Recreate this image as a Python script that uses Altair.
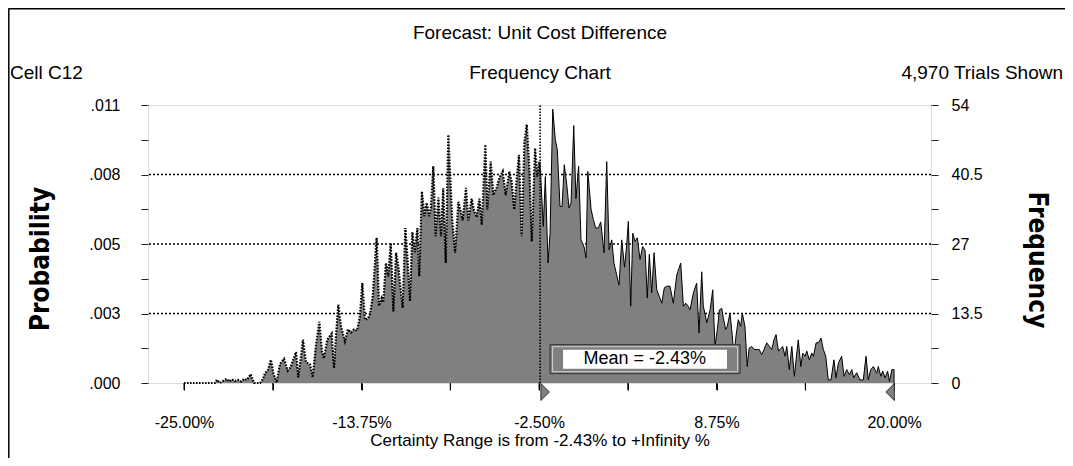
import altair as alt
import pandas as pd

# ---------------- data ----------------
x_pct = [
    -25.00, -23.04, -22.91, -22.72, -22.53, -22.29, -22.15, -21.96, -21.77, -21.58,
    -21.39, -21.20, -21.01, -20.77, -20.56, -20.18, -19.99, -19.87, -19.68, -19.49,
    -19.33, -19.12, -18.92, -18.66, -18.43, -18.25, -18.09, -17.90, -17.76, -17.58,
    -17.46, -17.27, -17.01, -16.84, -16.63, -16.42, -16.25, -16.13, -15.92, -15.78,
    -15.64, -15.49, -15.37, -15.22, -15.05, -14.80, -14.61, -14.42, -14.23, -14.02,
    -13.85, -13.70, -13.53, -13.34, -13.21, -13.04, -12.79, -12.64, -12.47, -12.37,
    -12.20, -12.05, -11.90, -11.73, -11.56, -11.42, -11.14, -10.97, -10.82, -10.68,
    -10.53, -10.36, -10.21, -10.09, -9.92, -9.77, -9.62, -9.47, -9.35, -9.20,
    -9.05, -8.88, -8.71, -8.57, -8.41, -8.25, -8.00, -7.82, -7.61, -7.44,
    -7.34, -7.13, -6.98, -6.77, -6.62, -6.45, -6.28, -6.13, -5.90, -5.78,
    -5.56, -5.40, -5.18, -5.02, -4.80, -4.61, -4.38, -4.23, -4.07, -3.92,
    -3.77, -3.60, -3.43, -3.28, -3.12, -2.96, -2.75, -2.61, -2.48, -2.39,
    -2.23, -2.10, -1.93, -1.80, -1.63, -1.47, -1.34, -1.17, -1.04, -0.90,
    -0.74, -0.60, -0.47, -0.30, -0.16, 0.01, 0.16, 0.35, 0.48, 0.59,
    0.80, 0.94, 1.09, 1.26, 1.41, 1.62, 1.79, 1.94, 2.11, 2.25,
    2.42, 2.57, 2.74, 2.92, 3.06, 3.16, 3.31, 3.44, 3.58, 3.73,
    3.90, 4.07, 4.22, 4.36, 4.49, 4.64, 4.79, 4.96, 5.12, 5.28,
    5.44, 5.59, 5.80, 6.01, 6.23, 6.48, 6.65, 6.80, 6.96, 7.07,
    7.28, 7.49, 7.64, 7.81, 7.91, 8.13, 8.34, 8.51, 8.65, 8.80,
    8.93, 9.08, 9.18, 9.33, 9.43, 9.60, 9.71, 9.86, 9.98, 10.13,
    10.28, 10.38, 10.55, 10.69, 10.82, 10.98, 11.13, 11.30, 11.46, 11.61,
    11.76, 11.93, 12.10, 12.25, 12.39, 12.52, 12.67, 12.77, 12.94, 13.09,
    13.20, 13.36, 13.52, 13.68, 13.79, 13.93, 14.09, 14.21, 14.36, 14.47,
    14.63, 14.78, 14.89, 15.06, 15.20, 15.37, 15.52, 15.67, 15.83, 16.00,
    16.19, 16.32, 16.47, 16.68, 16.83, 17.00, 17.17, 17.32, 17.44, 17.63,
    17.84, 18.05, 18.22, 18.37, 18.52, 18.69, 18.90, 19.00, 19.16, 19.28,
    19.43, 19.59, 19.71, 19.86, 20.00, 20.00,
]
freq = [
    0, 0, 0.6, 0, 0.4, 0.8, 0.3, 0.7, 0.4, 0.6,
    0.3, 0.8, 0.6, 1.7, 0, 0, 0.8, 1.9, 2.5, 4.5,
    1.8, 0.1, 3.7, 4.7, 2.4, 3.0, 4.4, 6.0, 1.1, 5.2,
    8.4, 4.0, 3.6, 1.1, 7.5, 11.9, 6.0, 4.8, 8.4, 9.0,
    9.6, 2.9, 9.0, 15.2, 11.0, 8.1, 10.4, 9.8, 10.4, 10.2,
    13.0, 19.4, 12.3, 12.5, 13.4, 16.8, 28.2, 15.0, 16.5, 15.7,
    23.3, 20.7, 27.2, 13.9, 25.3, 22.7, 14.6, 30.1, 23.6, 15.9,
    29.3, 25.4, 30.1, 20.7, 37.2, 32.4, 35.0, 32.4, 34.0, 42.1,
    28.5, 36.0, 28.5, 37.8, 23.3, 48.2, 31.6, 25.3, 35.2, 33.0,
    31.6, 37.9, 31.6, 35.8, 33.5, 32.2, 35.8, 30.7, 46.3, 33.7,
    43.0, 36.5, 38.0, 39.8, 41.1, 36.5, 41.1, 39.0, 33.7, 39.5,
    44.3, 28.5, 46.6, 50.2, 42.0, 27.5, 45.6, 40.1, 43.0, 40.1,
    30.4, 40.1, 23.3, 29.1, 53.2, 47.3, 45.3, 34.3, 34.3, 42.4,
    38.5, 34.0, 35.0, 50.0, 35.8, 42.1, 27.8, 26.5, 24.3, 41.1,
    33.7, 31.8, 30.1, 30.1, 31.3, 25.3, 43.0, 25.9, 27.8, 23.3,
    21.0, 19.0, 27.8, 22.5, 27.0, 31.4, 14.9, 29.1, 27.5, 28.2,
    24.0, 26.5, 25.8, 16.5, 25.0, 17.5, 25.3, 18.1, 16.8, 15.5,
    18.5, 18.8, 18.8, 15.5, 21.0, 23.3, 14.9, 15.5, 14.9, 14.2,
    17.5, 19.4, 9.7, 21.6, 15.0, 11.7, 14.2, 18.1, 7.1, 10.4,
    14.2, 14.5, 12.6, 10.4, 11.0, 13.6, 10.4, 5.2, 9.1, 12.3,
    11.0, 13.6, 11.0, 3.2, 6.8, 7.1, 6.5, 6.5, 6.5, 5.5,
    6.5, 7.8, 7.1, 6.5, 8.4, 9.4, 6.2, 6.5, 7.1, 5.2,
    7.1, 2.6, 7.1, 1.3, 4.5, 8.4, 3.2, 5.8, 5.2, 6.2,
    4.5, 5.8, 5.2, 7.8, 7.8, 8.7, 6.5, 5.2, 0.6, 0.6,
    4.5, 1.0, 3.9, 5.2, 1.3, 2.6, 1.6, 2.6, 1.0, 2.0,
    0.6, 0.6, 5.2, 0.6, 2.6, 3.2, 1.9, 3.2, 1.3, 2.3,
    1.0, 2.3, 0.3, 2.6, 2.6, 0,
]

MEAN = -2.43
TRIALS = 4970
SPLIT = -2.39

x_ticks = [-25, -19.375, -13.75, -8.125, -2.5, 3.125, 8.75, 14.375, 20]
x_major = [-25, -13.75, -2.5, 8.75, 20]
x_labels = ["-25.00%", "-13.75%", "-2.50%", "8.75%", "20.00%"]

y_ticks = [0, 6.75, 13.5, 20.25, 27, 33.75, 40.5, 47.25, 54]
y_major = [0, 13.5, 27, 40.5, 54]
y_left_labels = [".000", ".003", ".005", ".008", ".011"]
y_right_labels = ["0", "13.5", "27", "40.5", "54"]
grid_vals = [13.5, 27, 40.5]

title_main = "Forecast: Unit Cost Difference"
title_left = "Cell C12"
title_mid = "Frequency Chart"
title_right = "4,970 Trials Shown"
x_title = "Certainty Range is from -2.43% to +Infinity %"
mean_text = "Mean = -2.43%"

# ---------------- build ----------------
FONT = "Liberation Sans, Arial, sans-serif"
NARROW = "Liberation Sans Narrow, DejaVu Sans Condensed, Roboto, Liberation Sans"
GRAY = "#808080"

X_DOMAIN = [-27.28, 22.34]
Y_DOMAIN = [0, 54]
W, H = 783, 278


def lab_expr(vals, labs):
    expr = "''"
    for v, l in reversed(list(zip(vals, labs))):
        expr = f"datum.value == {v} ? '{l}' : ({expr})"
    return expr


x_axis = alt.Axis(values=x_ticks, labelExpr=lab_expr(x_major, x_labels), grid=False,
                  domain=False, ticks=True, tickSize=7, tickWidth=1, tickColor="black",
                  labelFont=FONT, labelFontSize=16, labelColor="black", labelPadding=24,
                  labelOverlap=False, labelFlush=False, title=None)
y_left_axis = alt.Axis(values=y_ticks, labelExpr=lab_expr(y_major, y_left_labels),
                       orient="left", grid=False, domain=False, tickSize=7,
                       tickColor="#222", labelFont=FONT, labelFontSize=16,
                       labelColor="black", labelPadding=21, labelOverlap=False)
y_right_axis = alt.Axis(values=y_ticks, labelExpr=lab_expr(y_major, y_right_labels),
                        orient="right", grid=False, domain=False, tickSize=7,
                        tickColor="#222", labelFont=FONT, labelFontSize=16,
                        labelColor="black", labelPadding=13, labelOverlap=False)


def xs(field="x"):
    # every layer carries the same x axis so the shared axis merges cleanly
    return alt.X(f"{field}:Q", scale=alt.Scale(domain=X_DOMAIN, nice=False, zero=False),
                 axis=x_axis, title=None)


def ys(field="f", axis=None):
    return alt.Y(f"{field}:Q", scale=alt.Scale(domain=Y_DOMAIN, nice=False, zero=False),
                 axis=axis, title=None, stack=None)


df = pd.DataFrame({"x": x_pct, "f": freq})
df["i"] = range(len(df))
left_df = df[df.x <= SPLIT]
right_df = df[df.x >= SPLIT]

grid = alt.Chart(pd.DataFrame({"g": grid_vals})).mark_rule(
    color="black", strokeDash=[2, 2], strokeWidth=1.6
).encode(y=ys("g", y_right_axis))

# x tick marks below the baseline (drawn through the x scale)
xtick_marks = alt.Chart(pd.DataFrame({"x": x_ticks})).mark_rule(
    color="black", strokeWidth=1
).encode(x=xs(), y=alt.value(H), y2=alt.value(H + 7))

area = alt.Chart(df).mark_area(color=GRAY, opacity=1, interpolate="linear").encode(
    x=xs("x"), y=ys("f", y_left_axis)
)

line_left = alt.Chart(left_df).mark_line(
    color="black", strokeWidth=2.2, strokeDash=[1.6, 1.4], interpolate="linear"
).encode(x=xs(), y=ys(), order="i:Q")

line_right = alt.Chart(right_df).mark_line(
    color="black", strokeWidth=1, interpolate="linear"
).encode(x=xs(), y=ys(), order="i:Q")

mean_line = alt.Chart(pd.DataFrame({"x": [MEAN], "y": [0], "y2": [54]})).mark_rule(
    color="black", strokeDash=[1.5, 1.5], strokeWidth=1.6
).encode(x=xs(), y=ys("y"), y2="y2:Q")

# mean label box (data units)
box_outer = alt.Chart(pd.DataFrame({"x": [-1.80], "x2": [10.24], "y": [1.81], "y2": [7.44]})).mark_rect(
    fill=GRAY, stroke="#303030", strokeWidth=1
).encode(x=xs(), x2="x2:Q", y=ys("y"), y2="y2:Q")
box_bevel = alt.Chart(pd.DataFrame({"x": [-1.64], "x2": [10.08], "y": [2.19], "y2": [7.05]})).mark_rect(
    fill=GRAY, stroke="#d0d0d0", strokeWidth=1
).encode(x=xs(), x2="x2:Q", y=ys("y"), y2="y2:Q")
box_inner = alt.Chart(pd.DataFrame({"x": [-0.98], "x2": [9.41], "y": [2.78], "y2": [6.47]})).mark_rect(
    fill="white", stroke="white", strokeWidth=0
).encode(x=xs(), x2="x2:Q", y=ys("y"), y2="y2:Q")
box_text = alt.Chart(pd.DataFrame({"x": [4.2], "y": [4.6], "t": [mean_text]})).mark_text(
    font=FONT, fontSize=18, color="black", align="center", baseline="middle"
).encode(x=xs(), y=ys("y"), text="t:N")

tri_right = alt.Chart(pd.DataFrame({"x": [MEAN], "y": [0]})).mark_point(
    shape="M -0.5 -1 L 0.5 0 L -0.5 1 Z", size=289, filled=True, fill=GRAY,
    stroke="#303030", strokeWidth=1, opacity=1, xOffset=5, yOffset=9
).encode(x=xs(), y=ys("y"))
tri_left = alt.Chart(pd.DataFrame({"x": [20.0], "y": [0]})).mark_point(
    shape="M 0.5 -1 L -0.5 0 L 0.5 1 Z", size=289, filled=True, fill=GRAY,
    stroke="#303030", strokeWidth=1, opacity=1, xOffset=-4, yOffset=9
).encode(x=xs(), y=ys("y"))


def label(text, px, py, size=18, align="center", angle=0, font=FONT, weight="normal"):
    return alt.Chart(pd.DataFrame({"t": [text]})).mark_text(
        font=font, fontSize=size, fontWeight=weight, color="black",
        align=align, baseline="middle", angle=angle
    ).encode(x=alt.value(px), y=alt.value(py), text="t:N")


texts = [
    label(title_main, 392, -72, 19),
    label(title_left, -138, -32, 19, align="left"),
    label(title_mid, 392, -32, 19),
    label(title_right, 915, -32, 19, align="right"),
    label(x_title, 392, 336, 17),
    label("Probability", -107, 154, 26, angle=270, font=NARROW, weight="bold"),
    label("Frequency", 889, 155, 26, angle=90, font=NARROW, weight="bold"),
]

dummy = pd.DataFrame({"a": [0]})
border_top = alt.Chart(dummy).mark_rule(color="black", strokeWidth=1.5).encode(
    x=alt.value(-139.5), x2=alt.value(917), y=alt.value(-96.2)
)
border_left = alt.Chart(dummy).mark_rule(color="black", strokeWidth=1.5).encode(
    x=alt.value(-139.2), y=alt.value(-96.5), y2=alt.value(353)
)

chart = alt.layer(
    grid, xtick_marks, area, line_left, line_right, mean_line,
    box_outer, box_bevel, box_inner, box_text,
    tri_right, tri_left, border_top, border_left, *texts
).resolve_scale(y="shared", x="shared").resolve_axis(y="independent").properties(
    width=W, height=H,
    autosize=alt.AutoSizeParams(type="none"),
    padding={"left": 140, "top": 97, "right": 134, "bottom": 75},
).configure_view(stroke=GRAY, strokeWidth=1.2).configure(background="white")

chart.save("out.html", embed_options={"renderer": "svg", "actions": False})
